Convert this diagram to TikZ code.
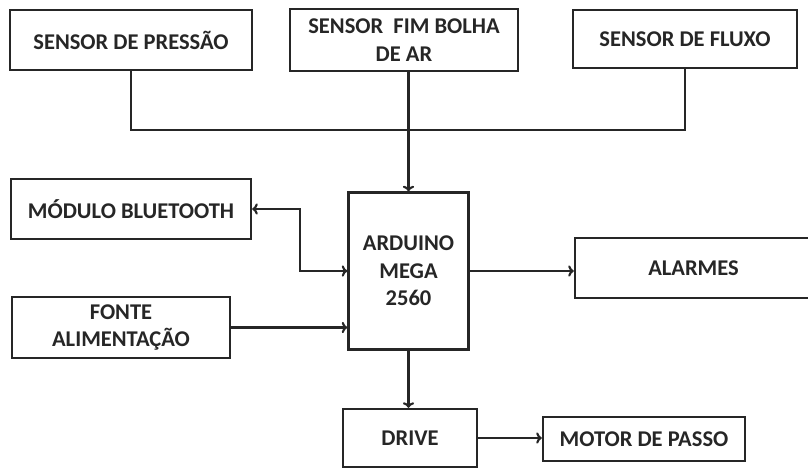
\documentclass[tikz,border=0pt]{standalone}
\usepackage{fontspec}
\setmainfont{Carlito}
\usepackage{tikz}
\usetikzlibrary{arrows, arrows.meta, positioning, calc}
\tikzset{
  block/.style={
    rectangle,
    draw=black!85,
    line width=1.6pt,
    fill=white,
    text=black!85,
    align=center,
    inner sep=2pt,
    font=\fontsize{16}{19.5}\selectfont\bfseries
  },
  link/.style={
    line width=1.5pt,
    draw=black!85
  },
  arrow/.style={
    line width=1.5pt,
    draw=black!85,
    ->,
    >={To[length=4pt, width=8pt]}
  }
}

\begin{document}
\begin{tikzpicture}[x=0.025cm, y=-0.025cm]

  \useasboundingbox (0,0) rectangle (808,470);

  % SENSORS
  \node (pressao) [block, minimum width=6.05cm, minimum height=1.5cm] at (131,40) {SENSOR DE PRESSÃO};
  \node (bolha)   [block, minimum width=5.7cm, minimum height=1.55cm] at (404,40) {SENSOR~~FIM BOLHA\\DE AR};
  \node (fluxo)   [block, minimum width=5.6cm, minimum height=1.45cm] at (685,39) {SENSOR DE FLUXO};

  % CONTROLLER
  \node (arduino) [block, minimum width=3cm, minimum height=3.925cm] at (408.5,271) {ARDUINO\\MEGA\\2560};

  % LEFT SIDE
  \node (bluetooth) [block, minimum width=6cm, minimum height=1.5cm] at (131,209) {MÓDULO BLUETOOTH};
  \node (fonte)     [block, minimum width=5.45cm, minimum height=1.525cm] at (121,327.5) {FONTE\\ALIMENTAÇÃO};

  % OUTPUTS
  \node (alarmes) [block, minimum width=5.925cm, minimum height=1.5cm] at (693.5,268) {ALARMES};
  \node (drive)   [block, minimum width=3.35cm, minimum height=1.45cm] at (410,438) {DRIVE};
  \node (motor)   [block, minimum width=5.05cm, minimum height=1.1cm] at (644,439) {MOTOR DE PASSO};

  % CONNECTIONS
  \coordinate (bus) at (408,130);
  \draw[link] (pressao.south) |- (bus) -| (fluxo.south);
  \draw[arrow] (bolha.south -| arduino.north) -- (arduino.north);
  \draw[arrow, <->] (bluetooth.east) -- ++(48,0) |- (arduino.west);
  \draw[arrow] (fonte.east) -- (fonte.east -| arduino.west);
  \draw[arrow] (arduino.east) -- (arduino.east -| alarmes.west);
  \draw[arrow] (arduino.south) -- (arduino.south |- drive.north);
  \draw[arrow] (drive.east) -- (drive.east -| motor.west);

\end{tikzpicture}
\end{document}
